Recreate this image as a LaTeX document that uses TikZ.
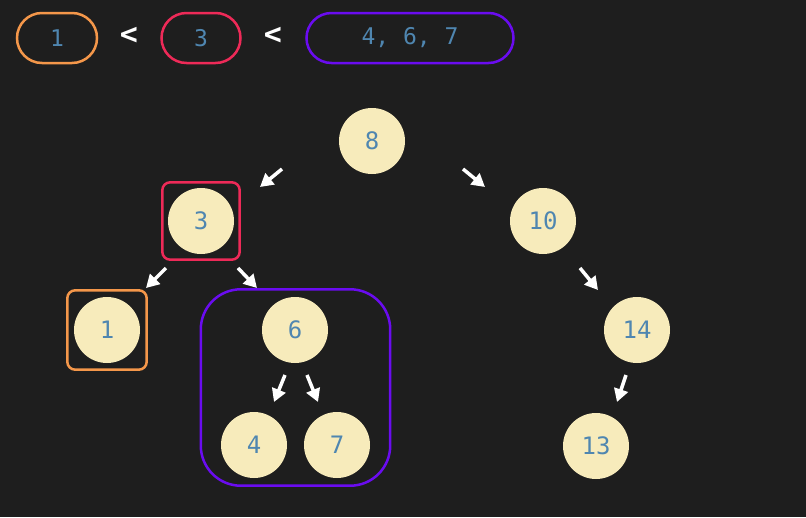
\documentclass[tikz,border=0pt]{standalone}
\usepackage{fontspec}
\setmonofont{DejaVu Sans Mono}
\usetikzlibrary{arrows.meta, positioning, calc, fit}

\definecolor{bgdark}{HTML}{1E1E1E}
\definecolor{nodefill}{HTML}{F7EBBB}
\definecolor{numblue}{HTML}{4F86B0}
\definecolor{loworange}{HTML}{F4974A}
\definecolor{midred}{HTML}{EE2A58}
\definecolor{highpurple}{HTML}{6A0CF0}

\begin{document}
\begin{tikzpicture}[
        x=1pt, y=-1pt,
        treenode/.style={
            circle, fill=nodefill, minimum size=66pt, inner sep=0pt,
            text=numblue, font=\ttfamily\fontsize{24}{28}\selectfont
        },
        pill/.style={
            rectangle, draw=#1, line width=2.5pt, rounded corners=25pt,
            minimum height=50pt, inner sep=0pt,
            text=numblue, font=\ttfamily\fontsize{23}{27}\selectfont
        },
        groupbox/.style={
            rectangle, draw=#1, line width=2.5pt, inner sep=0pt
        },
        lessthan/.style={
            text=white, font=\ttfamily\bfseries\fontsize{30}{34}\selectfont
        },
        edge/.style={
            draw=white, line width=3.5pt, -{Triangle[length=13pt, width=14pt]}
        }
    ]
        % ----------------------------------------------------
        % Background
        % ----------------------------------------------------
        \fill[bgdark] (0,0) rectangle (806,517);
        \useasboundingbox (0,0) rectangle (806,517);

        % ----------------------------------------------------
        % TOP: ordering legend
        % ----------------------------------------------------
        \node[pill=loworange, minimum width=80pt] (lowpill) at (57,38) {1};
        \node[lessthan] (lt1) at (129,36) {<};
        \node[pill=midred, minimum width=79pt] (midpill) at (201,38) {3};
        \node[lessthan] (lt2) at (273,36) {<};
        \node[pill=highpurple, minimum width=207pt] (highpill) at (410,38) {4, 6, 7};

        % ----------------------------------------------------
        % TREE: nodes
        % ----------------------------------------------------
        \node[treenode] (n8) at (372,141) {8};
        \node[treenode] (n3) at (201,221) {3};
        \node[treenode] (n10) at (543,221) {10};
        \node[treenode] (n1) at (107,330) {1};
        \node[treenode] (n6) at (295,330) {6};
        \node[treenode] (n14) at (637,330) {14};
        \node[treenode] (n4) at (254,445) {4};
        \node[treenode] (n7) at (337,445) {7};
        \node[treenode] (n13) at (596,446) {13};

        % Groups around the subtrees
        \node[groupbox=midred, fit=(n3), inner sep=5.5pt, rounded corners=8pt] (midbox) {};
        \node[groupbox=loworange, fit=(n1), inner sep=6.5pt, rounded corners=8pt] (lowbox) {};
        \node[groupbox=highpurple, fit=(n6)(n4)(n7), inner xsep=20pt, inner ysep=7.5pt, rounded corners=40pt] (highbox) {};

        % ----------------------------------------------------
        % TREE: edges (short arrows in the gaps)
        % ----------------------------------------------------
        \draw[edge] ($(n8)+(-90,28)$) -- ($(n3)+(59,-34)$);
        \draw[edge] ($(n8)+(91,28)$) -- ($(n10)+(-58,-34)$);
        \draw[edge] ($(n3)+(-35,47)$) -- ($(n1)+(39,-42)$);
        \draw[edge] ($(n3)+(37,47)$) -- ($(n6)+(-38,-42)$);
        \draw[edge] ($(n10)+(37,47)$) -- ($(n14)+(-39,-40)$);
        \draw[edge] ($(n6)+(-10,45)$) -- ($(n4)+(20,-43)$);
        \draw[edge] ($(n6)+(12,45)$) -- ($(n7)+(-19,-43)$);
        \draw[edge] ($(n14)+(-11,45)$) -- ($(n13)+(21,-44)$);

    \end{tikzpicture}
\end{document}
